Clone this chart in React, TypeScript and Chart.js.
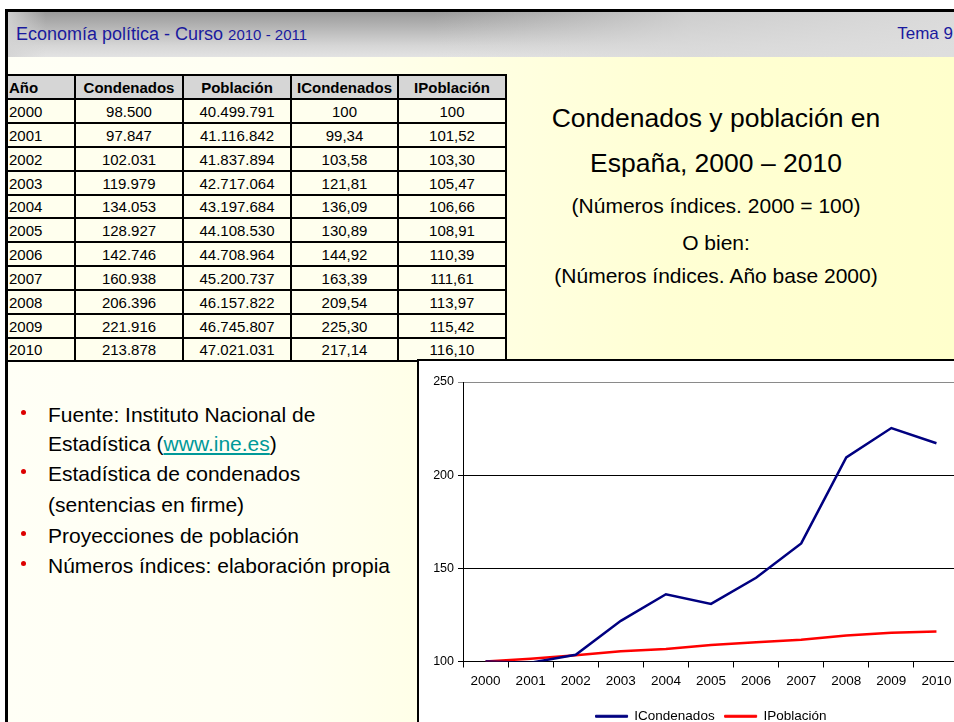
import React, { useEffect, useRef } from "react";
import { Chart, registerables } from "chart.js";

Chart.register(...registerables);

const FONT = 'Arial, "Liberation Sans", sans-serif';

// ---------- data ----------
const years = ["2000", "2001", "2002", "2003", "2004", "2005", "2006", "2007", "2008", "2009", "2010"];
const condenados = ["98.500", "97.847", "102.031", "119.979", "134.053", "128.927", "142.746", "160.938", "206.396", "221.916", "213.878"];
const poblacion = ["40.499.791", "41.116.842", "41.837.894", "42.717.064", "43.197.684", "44.108.530", "44.708.964", "45.200.737", "46.157.822", "46.745.807", "47.021.031"];
const iCondenadosText = ["100", "99,34", "103,58", "121,81", "136,09", "130,89", "144,92", "163,39", "209,54", "225,30", "217,14"];
const iPoblacionText = ["100", "101,52", "103,30", "105,47", "106,66", "108,91", "110,39", "111,61", "113,97", "115,42", "116,10"];
const iCondenados = [100, 99.34, 103.58, 121.81, 136.09, 130.89, 144.92, 163.39, 209.54, 225.3, 217.14];
const iPoblacion = [100, 101.52, 103.3, 105.47, 106.66, 108.91, 110.39, 111.61, 113.97, 115.42, 116.1];
const tableHeaders = ["Año", "Condenados", "Población", "ICondenados", "IPoblación"];
const yTicks = [100, 150, 200, 250];
const seriesNames = ["ICondenados", "IPoblación"];

// table geometry
const colX = [6, 74, 182, 290, 397, 505, 507];
const rowY = [74, 98, 122, 146, 170, 194, 217, 241, 265, 289, 313, 337, 360, 362];

function TableCells() {
  const rows: string[][] = [tableHeaders];
  years.forEach((y, i) => rows.push([y, condenados[i], poblacion[i], iCondenadosText[i], iPoblacionText[i]]));
  const cells: React.ReactNode[] = [];
  rows.forEach((row, r) => {
    row.forEach((txt, c) => {
      const isHeader = r === 0;
      const left = colX[c];
      const right = c === 4 ? colX[6] : colX[c + 1];
      const top = rowY[r];
      const bottom = r === rows.length - 1 ? rowY[r + 2] : rowY[r + 1];
      cells.push(
        <div
          key={r + "-" + c}
          style={{
            position: "absolute",
            left,
            top,
            width: right - left + (c === 4 ? 0 : 2),
            height: bottom - top + (r === rows.length - 1 ? 0 : 2),
            boxSizing: "border-box",
            border: "2px solid #000",
            background: isHeader ? "#d6d6d6" : "#ffffee",
            display: "flex",
            alignItems: "center",
            justifyContent: c === 0 ? "flex-start" : "center",
            paddingLeft: c === 0 ? 1 : 0,
            fontSize: 15,
            fontWeight: isHeader ? "bold" : "normal",
            color: "#000",
            whiteSpace: "nowrap",
            overflow: "hidden",
          }}
        >
          {txt}
        </div>
      );
    });
  });
  return <>{cells}</>;
}

function LineChart() {
  const ref = useRef<HTMLCanvasElement | null>(null);
  useEffect(() => {
    if (!ref.current) return;
    const chart = new Chart(ref.current, {
      type: "line",
      data: {
        labels: years,
        datasets: [
          {
            label: seriesNames[0],
            data: iCondenados,
            borderColor: "#000080",
            backgroundColor: "#000080",
            borderWidth: 2.5,
            pointRadius: 0,
            tension: 0,
            fill: false,
          },
          {
            label: seriesNames[1],
            data: iPoblacion,
            borderColor: "#ff0000",
            backgroundColor: "#ff0000",
            borderWidth: 2.5,
            pointRadius: 0,
            tension: 0,
            fill: false,
          },
        ],
      },
      options: {
        animation: false,
        responsive: false,
        maintainAspectRatio: false,
        devicePixelRatio: 1,
        layout: { padding: { top: 21, left: 0, right: 0, bottom: 0 } },
        plugins: {
          tooltip: { enabled: false },
          legend: {
            position: "bottom",
            fullSize: false,
            labels: {
              boxWidth: 32,
              boxHeight: 2,
              padding: 10,
              color: "#000",
              font: { family: FONT, size: 13.5 },
              generateLabels: (c: any) =>
                Chart.defaults.plugins.legend.labels.generateLabels(c).map((l: any) => ({ ...l, lineWidth: 1 })),
            },
          },
        },
        scales: {
          x: {
            offset: true,
            grid: { offset: true, drawOnChartArea: false, drawTicks: true, tickLength: 6, color: "#000" },
            border: { color: "#000", width: 1 },
            ticks: { color: "#000", font: { family: FONT, size: 13.5 }, padding: 6, maxRotation: 0, autoSkip: false },
            afterFit: (s: any) => {
              s.height = 38;
            },
          },
          y: {
            min: 100,
            max: 250,
            afterBuildTicks: (s: any) => {
              s.ticks = yTicks.map((v) => ({ value: v }));
            },
            grid: {
              color: (c: any) => (c.tick && c.tick.value === 250 ? "#8a8a8a" : "#000"),
              tickLength: 5,
              drawTicks: true,
            },
            border: { color: "#000", width: 1 },
            ticks: { color: "#000", font: { family: FONT, size: 12.5 }, padding: 4 },
            afterFit: (s: any) => {
              s.width = 43;
            },
          },
        },
      },
    } as any);
    return () => chart.destroy();
  }, []);
  return <canvas ref={ref} width={539} height={372} style={{ position: "absolute", left: 1, top: 0, width: 539, height: 372 }} />;
}

const titleLines = [
  { text: "Condenados y población en", size: 26.5, top: 105 },
  { text: "España, 2000 – 2010", size: 26.5, top: 150 },
  { text: "(Números índices. 2000 = 100)", size: 21, top: 194.5 },
  { text: "O bien:", size: 21, top: 231.5 },
  { text: "(Números índices. Año base 2000)", size: 21, top: 265 },
];

export default function App() {
  const bulletTop = [404, 463, 525, 555];
  const bulletStyle: React.CSSProperties = {
    position: "absolute",
    left: 20.5,
    width: 5,
    height: 5,
    borderRadius: "50%",
    background: "#dd0000",
  };
  const lineStyle = (top: number): React.CSSProperties => ({
    position: "absolute",
    left: 48,
    top,
    fontSize: 21,
    lineHeight: "21px",
    color: "#000",
    whiteSpace: "nowrap",
  });
  return (
    <div
      style={{
        position: "fixed",
        left: 0,
        top: 0,
        width: 954,
        height: 722,
        overflow: "hidden",
        fontFamily: FONT,
        background: "linear-gradient(to right, #fffff6 0%, #fffff2 30%, #ffffd4 70%, #ffffcc 100%)",
      }}
    >
      <div style={{ position: "absolute", left: 0, top: 0, width: 954, height: 9, background: "#fff" }} />
      <div style={{ position: "absolute", left: 0, top: 0, width: 5, height: 722, background: "#fff" }} />
      {/* header bar */}
      <div
        style={{
          position: "absolute",
          left: 8,
          top: 12,
          width: 946,
          height: 45,
          background:
            "linear-gradient(to right, rgba(212,212,212,0.9) 0%, rgba(212,212,212,0) 4%, rgba(212,212,212,0) 45%, rgba(218,218,218,0.8) 72%, rgba(222,222,222,0.95) 100%), linear-gradient(to bottom, #9a9a9a 0%, #b6b6b6 35%, #d6d6d6 75%, #e3e3e3 100%)",
        }}
      />
      <div style={{ position: "absolute", left: 5, top: 9, width: 949, height: 3, background: "#000" }} />
      <div style={{ position: "absolute", left: 5, top: 9, width: 3, height: 713, background: "#000" }} />
      <div
        style={{
          position: "absolute",
          left: 16,
          top: 24.5,
          fontSize: 18,
          lineHeight: "18px",
          color: "#1a1a9e",
          whiteSpace: "nowrap",
        }}
      >
        Economía política - Curso <span style={{ fontSize: 15 }}>2010 - 2011</span>
      </div>
      <div
        style={{
          position: "absolute",
          right: 1,
          top: 25,
          fontSize: 17,
          lineHeight: "17px",
          color: "#1a1a9e",
          whiteSpace: "nowrap",
        }}
      >
        Tema 9
      </div>

      {/* data table */}
      <TableCells />

      {/* right titles */}
      {titleLines.map((l, i) => (
        <div
          key={i}
          style={{
            position: "absolute",
            left: 516,
            width: 400,
            top: l.top,
            textAlign: "center",
            fontSize: l.size,
            lineHeight: l.size + "px",
            color: "#000",
            whiteSpace: "nowrap",
          }}
        >
          {l.text}
        </div>
      ))}

      {/* bullets */}
      {bulletTop.map((t, i) => (
        <div key={"b" + i} style={{ ...bulletStyle, top: t + 5.5 }} />
      ))}
      <div style={lineStyle(404)}>Fuente: Instituto Nacional de</div>
      <div style={lineStyle(433)}>
        Estadística (<span style={{ color: "#009999", textDecoration: "underline" }}>www.ine.es</span>)
      </div>
      <div style={lineStyle(463)}>Estadística de condenados</div>
      <div style={lineStyle(494)}>(sentencias en firme)</div>
      <div style={lineStyle(525)}>Proyecciones de población</div>
      <div style={lineStyle(555)}>Números índices: elaboración propia</div>

      {/* chart box */}
      <div
        style={{
          position: "absolute",
          left: 417,
          top: 359,
          width: 600,
          height: 420,
          boxSizing: "border-box",
          borderLeft: "2px solid #000",
          borderTop: "2px solid #000",
          background: "#fff",
        }}
      >
        <LineChart />
      </div>
    </div>
  );
}
